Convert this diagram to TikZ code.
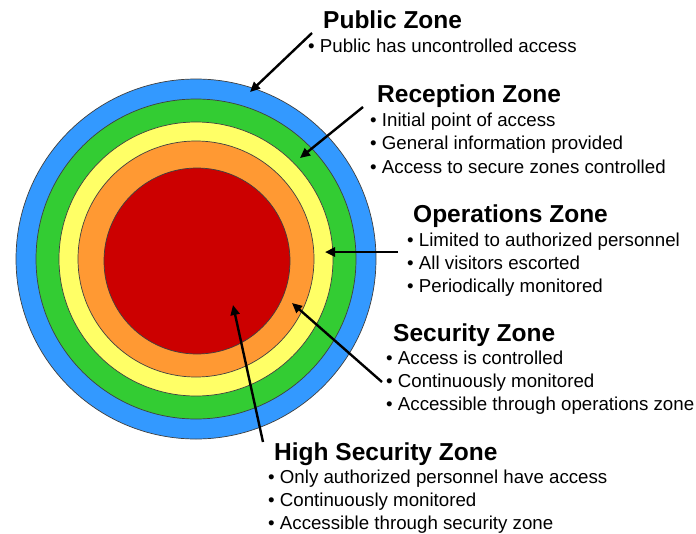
\documentclass[tikz,border=0pt]{standalone}
\usepackage{fontspec}
\setmainfont{Liberation Sans}
\usetikzlibrary{arrows.meta}
\definecolor{zblue}{HTML}{3399FF}
\definecolor{zgreen}{HTML}{33CC33}
\definecolor{zyellow}{HTML}{FFFF66}
\definecolor{zorange}{HTML}{FF9933}
\definecolor{zred}{HTML}{CC0000}
\begin{document}
\begin{tikzpicture}[x=1pt,y=-1pt,
  ring/.style={draw=black!75,line width=0.7pt},
  title/.style={anchor=base west,inner sep=0pt,font=\fontsize{24.5}{28}\selectfont\bfseries},
  item/.style={anchor=base west,inner sep=0pt,font=\fontsize{18.7}{22}\selectfont},
  pointer/.style={line width=2.4pt,-{Triangle[length=10pt,width=9pt]}}]
\useasboundingbox (0,0) rectangle (696,533);
\fill[white] (0,0) rectangle (696,533);
\coordinate (c) at (196,259);
\draw[ring,fill=zblue] (c) circle[radius=180pt];
\draw[ring,fill=zgreen] (c) circle[radius=160pt];
\draw[ring,fill=zyellow] (c) circle[radius=137pt];
\draw[ring,fill=zorange] (c) circle[radius=118pt];
\draw[ring,fill=zred] (197,261) circle[radius=93pt];

% Public zone
\node[title] (pubT) at (323,28) {Public Zone};
\node[item] (pub1) at (308,52.5) {• Public has uncontrolled access};
% Reception zone
\node[title] (recT) at (377,102) {Reception Zone};
\node[item] (rec1) at (370,126) {• Initial point of access};
\node[item] (rec2) at (370,149.5) {• General information provided};
\node[item] (rec3) at (370,173) {• Access to secure zones controlled};
% Operations zone
\node[title] (opsT) at (413,222) {Operations Zone};
\node[item] (ops1) at (407,246) {• Limited to authorized personnel};
\node[item] (ops2) at (407,269) {• All visitors escorted};
\node[item] (ops3) at (407,292) {• Periodically monitored};
% Security zone
\node[title] (secT) at (393,341) {Security Zone};
\node[item] (sec1) at (386,364.5) {• Access is controlled};
\node[item] (sec2) at (386,387.5) {• Continuously monitored};
\node[item] (sec3) at (386,410.5) {• Accessible through operations zone};
% High security zone
\node[title] (hsT) at (274,460) {High Security Zone};
\node[item] (hs1) at (268,483.5) {• Only authorized personnel have access};
\node[item] (hs2) at (268,506.5) {• Continuously monitored};
\node[item] (hs3) at (268,529.5) {• Accessible through security zone};

% arrow ends
\coordinate (pubTail) at (312,33);
\coordinate (pubTip) at (250,92);
\coordinate (recTail) at (363,107);
\coordinate (recTip) at (300,158);
\coordinate (opsTail) at (398,252);
\coordinate (opsTip) at (325,252);
\coordinate (secTail) at (382,382);
\coordinate (secTip) at (292,303);
\coordinate (hsTail) at (263,442);
\coordinate (hsTip) at (233,305);
\draw[pointer] (pubTail) -- (pubTip);
\draw[pointer] (recTail) -- (recTip);
\draw[pointer] (opsTail) -- (opsTip);
\draw[pointer] (secTail) -- (secTip);
\draw[pointer] (hsTail) -- (hsTip);
\end{tikzpicture}
\end{document}
